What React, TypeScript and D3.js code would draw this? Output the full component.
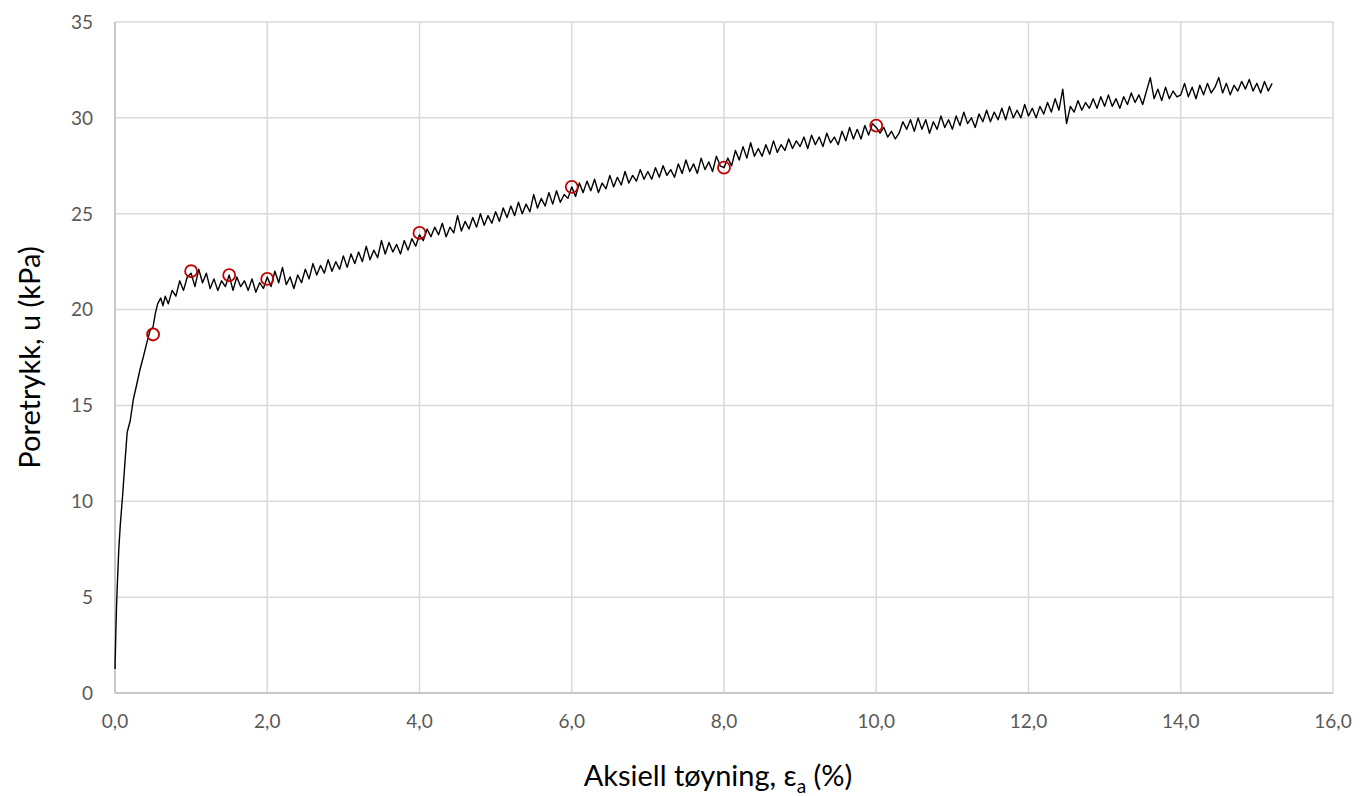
import React from "react";
import * as d3 from "d3";

// Initial rise (strain %, pore pressure kPa)
const riseStrain = [0, 0.01, 0.02, 0.03, 0.05, 0.07, 0.1, 0.13, 0.16, 0.2, 0.24, 0.28, 0.33, 0.37, 0.42, 0.46, 0.5, 0.53, 0.56, 0.6, 0.63, 0.66];
const risePressure = [1.25, 3.0, 4.5, 5.6, 7.5, 8.8, 10.3, 12.0, 13.6, 14.2, 15.3, 16.0, 16.9, 17.5, 18.3, 18.9, 19.1, 19.8, 20.3, 20.6, 20.2, 20.7];

// Noisy part sampled every 0.05 % strain from 0.70 %
const noiseStart = 0.7;
const noiseStep = 0.05;
const noisyPressure = [
  20.3, 21.0, 20.7, 21.5, 21.0, 21.7,
  21.9, 21.2, 22.1, 21.4, 21.9, 21.1, 21.6, 21.0, 21.5, 21.2, 21.8, 21.0, 21.7, 21.2, 21.5, 21.0, 21.6, 20.9, 21.4, 21.1,
  21.7, 21.2, 22.0, 21.4, 22.2, 21.3, 21.7, 21.1, 21.8, 21.4, 22.1, 21.6, 22.4, 21.8, 22.3, 21.9, 22.6, 22.0, 22.5, 22.1,
  22.8, 22.2, 22.9, 22.4, 23.0, 22.5, 23.3, 22.6, 23.1, 22.7, 23.6, 22.9, 23.5, 23.0, 23.4, 22.9, 23.6, 23.1, 23.7, 23.3,
  23.9, 23.6, 24.2, 23.8, 24.3, 23.9, 24.5, 23.8, 24.3, 24.0, 24.9, 24.1, 24.6, 24.2, 24.8, 24.3, 25.0, 24.4, 24.9, 24.5,
  25.1, 24.6, 25.3, 24.8, 25.4, 24.9, 25.6, 25.0, 25.5, 25.1, 26.0, 25.3, 25.8, 25.4, 26.1, 25.5, 26.2, 25.6, 26.0, 25.8,
  26.4, 25.9, 26.6, 26.1, 26.7, 26.2, 26.8, 26.1, 26.6, 26.3, 27.0, 26.4, 26.9, 26.5, 27.2, 26.6, 27.0, 26.7, 27.3, 26.8,
  27.2, 26.8, 27.4, 26.9, 27.5, 27.0, 27.3, 26.9, 27.6, 27.1, 27.8, 27.2, 27.6, 27.1, 27.9, 27.3, 27.7, 27.2, 28.0, 27.5,
  27.4, 27.9, 27.5, 28.3, 27.8, 28.5, 27.9, 28.7, 28.0, 28.4, 28.0, 28.6, 28.1, 28.8, 28.2, 28.6, 28.3, 28.9, 28.4, 28.8,
  28.5, 29.0, 28.4, 29.1, 28.6, 29.0, 28.5, 29.2, 28.7, 29.0, 28.6, 29.3, 28.8, 29.5, 28.9, 29.4, 28.9, 29.6, 29.1, 29.7,
  29.5, 29.2, 29.5, 29.0, 29.3, 28.9, 29.2, 29.8, 29.4, 29.9, 29.3, 30.0, 29.4, 29.9, 29.2, 29.8, 29.4, 30.1, 29.5, 29.9,
  29.4, 30.1, 29.6, 30.3, 29.7, 30.0, 29.5, 30.2, 29.8, 30.4, 29.8, 30.3, 29.9, 30.5, 29.9, 30.6, 30.0, 30.4, 30.0, 30.7,
  30.1, 30.5, 30.0, 30.6, 30.2, 30.8, 30.3, 31.0, 30.4, 31.5, 29.7, 30.6, 30.3, 30.9, 30.4, 30.8, 30.5, 31.0, 30.5, 31.1,
  30.6, 31.2, 30.6, 31.0, 30.5, 31.1, 30.7, 31.3, 30.8, 31.2, 30.7, 31.4, 32.1, 31.0, 31.5, 30.9, 31.6, 31.0, 31.4, 31.1,
  31.2, 31.8, 31.1, 31.6, 31.0, 31.7, 31.2, 31.8, 31.3, 31.6, 32.1, 31.3, 31.8, 31.2, 31.7, 31.4, 31.9, 31.5, 32.0, 31.4,
  31.8, 31.3, 31.9, 31.4, 31.8,
];

// Marked points (red circles)
const markStrain = [0.5, 1.0, 1.5, 2.0, 4.0, 6.0, 8.0, 10.0];
const markPressure = [18.7, 22.0, 21.8, 21.6, 24.0, 26.4, 27.4, 29.6];

const xTicks = [0, 2, 4, 6, 8, 10, 12, 14, 16];
const yTicks = [0, 5, 10, 15, 20, 25, 30, 35];

const W = 1369;
const H = 796;
const M = { left: 115, right: 1333, top: 22, bottom: 693 };
const FONT = "Lato, 'Open Sans', sans-serif";

export default function App() {
  const x = d3.scaleLinear().domain([0, 16]).range([M.left, M.right]);
  const y = d3.scaleLinear().domain([0, 35]).range([M.bottom, M.top]);

  const pts: [number, number][] = [];
  riseStrain.forEach((s, i) => pts.push([s, risePressure[i]]));
  noisyPressure.forEach((p, i) => pts.push([+(noiseStart + i * noiseStep).toFixed(2), p]));

  const line = d3
    .line<[number, number]>()
    .x((d) => x(d[0]))
    .y((d) => y(d[1]));

  const fmt = (v: number) => v.toFixed(1).replace(".", ",");

  return (
    <svg width={W} height={H} style={{ position: "absolute", left: 0, top: 0, background: "#fff" }}>
      <rect x={0} y={0} width={W} height={H} fill="#fff" />
      {/* gridlines */}
      {yTicks.map((t) => (
        <line key={"gy" + t} x1={M.left} x2={M.right} y1={y(t)} y2={y(t)} stroke="#d9d9d9" strokeWidth={1.5} />
      ))}
      {xTicks.map((t) => (
        <line key={"gx" + t} x1={x(t)} x2={x(t)} y1={M.top} y2={M.bottom} stroke="#d9d9d9" strokeWidth={1.5} />
      ))}
      {/* axes */}
      <line x1={M.left} x2={M.left} y1={M.top} y2={M.bottom} stroke="#bfbfbf" strokeWidth={1.5} />
      <line x1={M.left} x2={M.right} y1={M.bottom} y2={M.bottom} stroke="#bfbfbf" strokeWidth={1.5} />
      {/* tick labels */}
      {yTicks.map((t) => (
        <text key={"ly" + t} x={93} y={y(t)} dy="0.36em" textAnchor="end" fontFamily={FONT} fontSize={19} fill="#595959">
          {t}
        </text>
      ))}
      {xTicks.map((t) => (
        <text key={"lx" + t} x={x(t)} y={728} textAnchor="middle" fontFamily={FONT} fontSize={19} fill="#595959">
          {fmt(t)}
        </text>
      ))}
      {/* data line */}
      <path d={line(pts) || ""} fill="none" stroke="#000" strokeWidth={1.4} strokeLinejoin="round" />
      {/* markers */}
      {markStrain.map((s, i) => (
        <circle key={"m" + i} cx={x(s)} cy={y(markPressure[i])} r={6} fill="none" stroke="#c00000" strokeWidth={1.8} />
      ))}
      {/* axis titles */}
      <text x={718} y={786} textAnchor="middle" fontFamily={FONT} fontSize={29} fill="#000">
        Aksiell tøyning, ε
        <tspan fontSize={19} dy={7}>a</tspan>
        <tspan dy={-7}> (%)</tspan>
      </text>
      <text
        transform={`translate(40, ${(M.top + M.bottom) / 2}) rotate(-90)`}
        textAnchor="middle"
        fontFamily={FONT}
        fontSize={29}
        fill="#000"
      >
        Poretrykk, u (kPa)
      </text>
    </svg>
  );
}
